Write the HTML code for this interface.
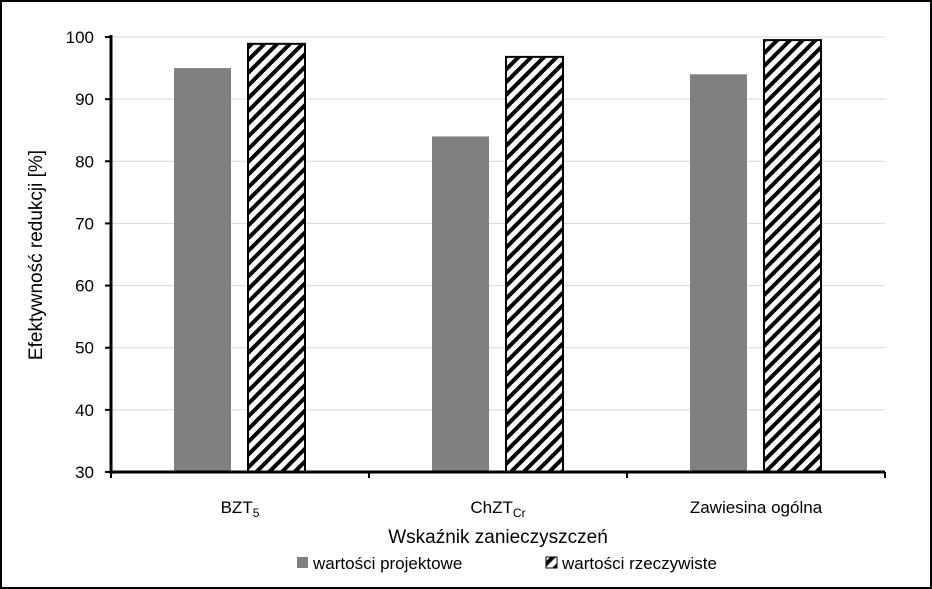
<!DOCTYPE html>
<html><head><meta charset="utf-8"><style>
body{margin:0;background:#fff}
svg{display:block;font-family:"Liberation Sans",sans-serif}
</style></head><body>
<svg id="chart" width="932" height="589" viewBox="0 0 932 589">
<defs>
<pattern id="hatch" patternUnits="userSpaceOnUse" width="9" height="9" patternTransform="rotate(45)">
<rect width="9" height="9" fill="#fff"/>
<rect width="4" height="9" fill="#000"/>
</pattern>
</defs>
<rect x="1" y="1" width="930" height="587" fill="#fff" stroke="#000" stroke-width="2"/>
<g id="grid"></g>
<g id="bars"></g>
<g id="axes"></g>
<text x="42" y="255" font-size="19" text-anchor="middle" transform="rotate(-90 42 255)">Efektywność redukcji [%]</text>
<text x="498" y="543" font-size="19" text-anchor="middle">Wskaźnik zanieczyszczeń</text>
<g>
<g>
<rect x="297" y="557" width="11" height="11" fill="#808080"/>
<text x="313" y="569" font-size="17">wartości projektowe</text>
</g>
<g>
<rect x="546" y="557" width="11" height="11" fill="url(#hatch)" stroke="#000" stroke-width="1"/>
<text x="562" y="569" font-size="17">wartości rzeczywiste</text>
</g>
</g>
</svg>
<script>
const categories=["BZT5","ChZT","Zawiesina ogólna"];
const projektowe=[95,84,94];
const rzeczywiste=[98.9,96.8,99.5];
const yTicks=[30,40,50,60,70,80,90,100];
const NS="http://www.w3.org/2000/svg";
const X0=111,X1=885,Y0=472,Y1=37,YMIN=30,YMAX=100;
const y=v=>Y0-(v-YMIN)/(YMAX-YMIN)*(Y0-Y1);
const gw=(X1-X0)/categories.length;
const xc=i=>X0+gw*(i+0.5);
function mk(tag,attrs,parent){const e=document.createElementNS(NS,tag);for(const k in attrs)e.setAttribute(k,attrs[k]);parent.appendChild(e);return e;}
const grid=document.getElementById('grid'),bars=document.getElementById('bars'),axes=document.getElementById('axes');
yTicks.forEach(t=>{
 if(t>YMIN){const l=mk('line',{x1:X0,x2:X1,y1:y(t),y2:y(t),stroke:'#d9d9d9','stroke-width':1},grid);
 
 }
 const tx=mk('text',{x:94,y:y(t)+6,'font-size':17,'text-anchor':'end'},axes);tx.textContent=t;
 
 
 mk('line',{x1:X0-6,x2:X0,y1:y(t),y2:y(t),stroke:'#000','stroke-width':2},axes);
});
const bw=57;
categories.forEach((c,i)=>{
 const b1=mk('rect',{x:xc(i)-66,y:y(projektowe[i]),width:bw,height:Y0-y(projektowe[i]),fill:'#808080'},bars);
 
 
 const b2=mk('rect',{x:xc(i)+8,y:y(rzeczywiste[i]),width:bw,height:Y0-y(rzeczywiste[i]),fill:'url(#hatch)',stroke:'#000','stroke-width':2},bars);
 
 
});
mk('line',{x1:X0,x2:X0,y1:Y1-2,y2:Y0+2,stroke:'#000','stroke-width':3},axes);
mk('line',{x1:X0,x2:X1,y1:Y0,y2:Y0,stroke:'#000','stroke-width':3},axes);
for(let i=0;i<=categories.length;i++)mk('line',{x1:X0+gw*i,x2:X0+gw*i,y1:Y0,y2:Y0+6,stroke:'#000','stroke-width':2},axes);
const labels=[["BZT","5"],["ChZT","Cr"],["Zawiesina ogólna",""]];
labels.forEach((l,i)=>{
 const t=mk('text',{x:xc(i),y:513,'font-size':17,'text-anchor':'middle'},axes);
 
 
 const a=document.createElementNS(NS,'tspan');a.textContent=l[0];t.appendChild(a);
 if(l[1]){const s=document.createElementNS(NS,'tspan');s.setAttribute('font-size','12');s.setAttribute('dy','4');s.textContent=l[1];t.appendChild(s);}
});
</script>
</body></html>
